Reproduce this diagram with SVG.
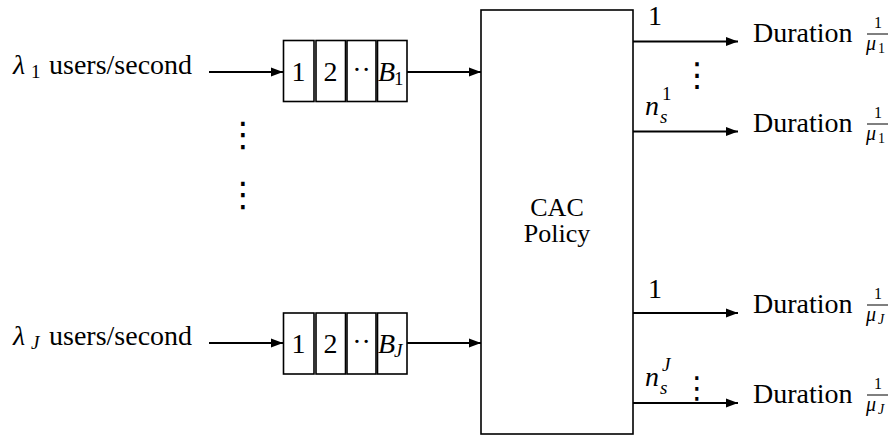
<svg xmlns="http://www.w3.org/2000/svg" width="892" height="440" viewBox="0 0 892 440">
  <style>
    .t { font-family: 'Liberation Serif', serif; fill: #000; }
    .i { font-style: italic; }
    .mid { text-anchor: middle; }
    .dots { font-family: 'DejaVu Sans', sans-serif; text-anchor: middle; fill: #000; }
    .box { stroke: #000; stroke-width: 1.6; fill: #fff; }
    .ln { stroke: #000; stroke-width: 1.8; fill: none; }
    .bar { stroke: #000; stroke-width: 1; }
  </style>
  <defs>
    <marker id="arrow" markerUnits="userSpaceOnUse" markerWidth="13" markerHeight="10" refX="12" refY="5" orient="auto">
      <path d="M0,0.5 L12,5 L0,9.5 Z" fill="#000"/>
    </marker>
  </defs>
  <rect width="892" height="440" fill="#fff"/>

  <!-- arrival streams -->
  <g id="source-1">
    <text class="t" font-size="28" y="74"><tspan x="13" class="i">λ</tspan><tspan x="31" y="78" font-size="19">1</tspan><tspan x="49" y="74">users/second</tspan></text>
  </g>
  <g id="source-J">
    <text class="t" font-size="28" y="345"><tspan x="13" class="i">λ</tspan><tspan x="31" y="349" font-size="19" class="i">J</tspan><tspan x="49" y="345">users/second</tspan></text>
  </g>
  <g id="source-dots">
    <text class="dots" font-size="34" x="243" y="146">⋮</text>
    <text class="dots" font-size="34" x="243" y="206">⋮</text>
  </g>

  <!-- buffer of class 1 -->
  <g id="queue-1">
    <rect class="box" x="283.5" y="40.5" width="30.5" height="61"/>
    <rect class="box" x="316" y="40.5" width="29.5" height="61"/>
    <rect class="box" x="347" y="40.5" width="29" height="61"/>
    <rect class="box" x="377.5" y="40.5" width="29.5" height="61"/>
    <text class="t mid" font-size="28" y="81"><tspan x="298.5">1</tspan><tspan x="330.5">2</tspan><tspan x="361.5" y="79">··</tspan></text>
    <text class="t" font-size="28" y="81"><tspan x="378" class="i">B</tspan><tspan x="394" y="85" font-size="19">1</tspan></text>
  </g>

  <!-- buffer of class J -->
  <g id="queue-J">
    <rect class="box" x="283.5" y="313" width="30.5" height="61"/>
    <rect class="box" x="316" y="313" width="29.5" height="61"/>
    <rect class="box" x="347" y="313" width="29" height="61"/>
    <rect class="box" x="377.5" y="313" width="29.5" height="61"/>
    <text class="t mid" font-size="28" y="353"><tspan x="298.5">1</tspan><tspan x="330.5">2</tspan><tspan x="361.5" y="351">··</tspan></text>
    <text class="t" font-size="28" y="353"><tspan x="378" class="i">B</tspan><tspan x="394" y="357" font-size="19" class="i">J</tspan></text>
  </g>

  <!-- admission controller -->
  <g id="cac-policy">
    <rect class="box" x="481" y="10" width="152" height="424"/>
    <text class="t mid" font-size="26" x="557" y="216">CAC</text>
    <text class="t mid" font-size="26" x="557" y="242">Policy</text>
  </g>

  <!-- servers of class 1 -->
  <g id="server-1-first">
    <text class="t" font-size="28" x="648" y="25">1</text>
    <text class="t" font-size="28" x="753" y="42">Duration</text>
    <text class="t mid" font-size="16" x="878" y="28">1</text>
    <line class="bar" x1="867" y1="34" x2="888" y2="34"/>
    <text class="t" font-size="20" y="50"><tspan x="866" class="i">μ</tspan><tspan x="878" y="53" font-size="14">1</tspan></text>
  </g>
  <g id="server-1-last">
    <text class="t" font-size="28" y="115"><tspan x="645" class="i">n</tspan><tspan x="662" y="100" font-size="19">1</tspan><tspan x="660" y="123" font-size="19" class="i">s</tspan></text>
    <text class="t" font-size="28" x="753" y="132">Duration</text>
    <text class="t mid" font-size="16" x="878" y="118">1</text>
    <line class="bar" x1="867" y1="124" x2="888" y2="124"/>
    <text class="t" font-size="20" y="140"><tspan x="866" class="i">μ</tspan><tspan x="878" y="143" font-size="14">1</tspan></text>
  </g>
  <g id="server-1-dots">
    <text class="dots" font-size="33" x="697" y="86">⋮</text>
  </g>

  <!-- servers of class J -->
  <g id="server-J-first">
    <text class="t" font-size="28" x="648" y="298">1</text>
    <text class="t" font-size="28" x="753" y="313">Duration</text>
    <text class="t mid" font-size="16" x="878" y="299">1</text>
    <line class="bar" x1="867" y1="305" x2="888" y2="305"/>
    <text class="t" font-size="20" y="321"><tspan x="866" class="i">μ</tspan><tspan x="878" y="324" font-size="14" class="i">J</tspan></text>
  </g>
  <g id="server-J-last">
    <text class="t" font-size="28" y="386"><tspan x="645" class="i">n</tspan><tspan x="662" y="371" font-size="19" class="i">J</tspan><tspan x="660" y="394" font-size="19" class="i">s</tspan></text>
    <text class="t" font-size="28" x="753" y="403">Duration</text>
    <text class="t mid" font-size="16" x="878" y="389">1</text>
    <line class="bar" x1="867" y1="395" x2="888" y2="395"/>
    <text class="t" font-size="20" y="411"><tspan x="866" class="i">μ</tspan><tspan x="878" y="414" font-size="14" class="i">J</tspan></text>
  </g>
  <g id="server-J-dots">
    <text class="dots" font-size="30" x="697" y="398">⋮</text>
  </g>

  <!-- connectors -->
  <g id="connectors">
    <line class="ln" x1="209" y1="72" x2="283" y2="72" marker-end="url(#arrow)"/>
    <line class="ln" x1="407" y1="72" x2="481" y2="72" marker-end="url(#arrow)"/>
    <line class="ln" x1="209" y1="343" x2="283" y2="343" marker-end="url(#arrow)"/>
    <line class="ln" x1="407" y1="343" x2="481" y2="343" marker-end="url(#arrow)"/>
    <line class="ln" x1="633" y1="41.5" x2="738" y2="41.5" marker-end="url(#arrow)"/>
    <line class="ln" x1="633" y1="131.5" x2="738" y2="131.5" marker-end="url(#arrow)"/>
    <line class="ln" x1="633" y1="313" x2="738" y2="313" marker-end="url(#arrow)"/>
    <line class="ln" x1="633" y1="403" x2="738" y2="403" marker-end="url(#arrow)"/>
  </g>
</svg>
